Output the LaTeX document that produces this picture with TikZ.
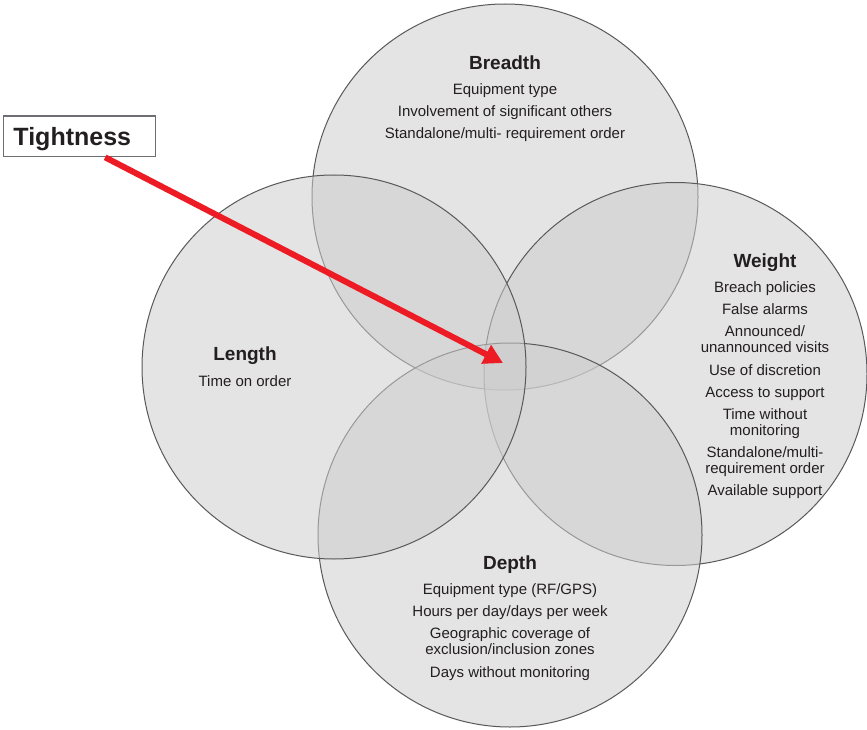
\documentclass[tikz,border=0pt]{standalone}
\usepackage{fontspec}
\setmainfont{Liberation Sans}
\usetikzlibrary{arrows.meta}
\definecolor{txt}{HTML}{231F20}
\definecolor{ring}{HTML}{58595B}
\definecolor{disc}{HTML}{CECDCD}
\definecolor{arrred}{HTML}{ED1C24}
\definecolor{boxline}{HTML}{6D6E71}
\begin{document}
\begin{tikzpicture}[x=1pt,y=-1pt,
  circ/.style={circle, draw=ring, line width=1pt, fill=disc, fill opacity=0.55, draw opacity=1, inner sep=0},
  ttl/.style={anchor=base, inner sep=0, font=\fontsize{19}{22}\selectfont\bfseries, text=txt},
  itm/.style={anchor=base, inner sep=0, font=\fontsize{15}{17}\selectfont, text=txt},
  tbox/.style={draw=boxline, line width=1.2pt, fill=white, text=txt, font=\fontsize{25}{28}\selectfont\bfseries,
    inner xsep=10pt, inner ysep=0pt, text width=131.7pt, align=left, minimum height=40.7pt, text height=18pt, text depth=0pt},
  redarrow/.style={draw=arrred, line width=6pt, -{Triangle[length=19pt,width=20pt]}}]
\useasboundingbox (0,0) rectangle (867,730);
% circles
\node[circ, minimum size=386pt] (breadth) at (505,197) {};
\node[circ, minimum size=383pt] (weight) at (675.5,374) {};
\node[circ, minimum size=384pt] (depth) at (510,535) {};
\node[circ, minimum size=384pt] (length) at (334,367) {};
% Breadth
\node[ttl] (bt) at (505,70) {Breadth};
\node[itm] (b1) at (505,95) {Equipment type};
\node[itm] (b2) at (505,117) {Involvement of significant others};
\node[itm] (b3) at (505,139) {Standalone/multi- requirement order};
% Length
\node[ttl] (lt) at (245,360) {Length};
\node[itm] (l1) at (245,386) {Time on order};
% Weight
\node[ttl] (wt) at (765,267) {Weight};
\node[itm] (w1) at (765,292) {Breach policies};
\node[itm] (w2) at (765,314) {False alarms};
\node[itm] (w3) at (765,336) {Announced/};
\node[itm] (w4) at (765,352) {unannounced visits};
\node[itm] (w5) at (765,375) {Use of discretion};
\node[itm] (w6) at (765,397) {Access to support};
\node[itm] (w7) at (765,419) {Time without};
\node[itm] (w8) at (765,435) {monitoring};
\node[itm] (w9) at (765,457) {Standalone/multi-};
\node[itm] (w10) at (765,473) {requirement order};
\node[itm] (w11) at (765,495) {Available support};
% Depth
\node[ttl] (dt) at (510,569) {Depth};
\node[itm] (d1) at (510,594) {Equipment type (RF/GPS)};
\node[itm] (d2) at (510,616) {Hours per day/days per week};
\node[itm] (d3) at (510,638) {Geographic coverage of};
\node[itm] (d4) at (510,654) {exclusion/inclusion zones};
\node[itm] (d5) at (510,677) {Days without monitoring};
% Tightness
\node[tbox] (tight) at (79.3,136.4) {Tightness};
\coordinate (tip) at (503,363);
\draw[redarrow] (tight.-39) -- (tip);
\end{tikzpicture}
\end{document}
